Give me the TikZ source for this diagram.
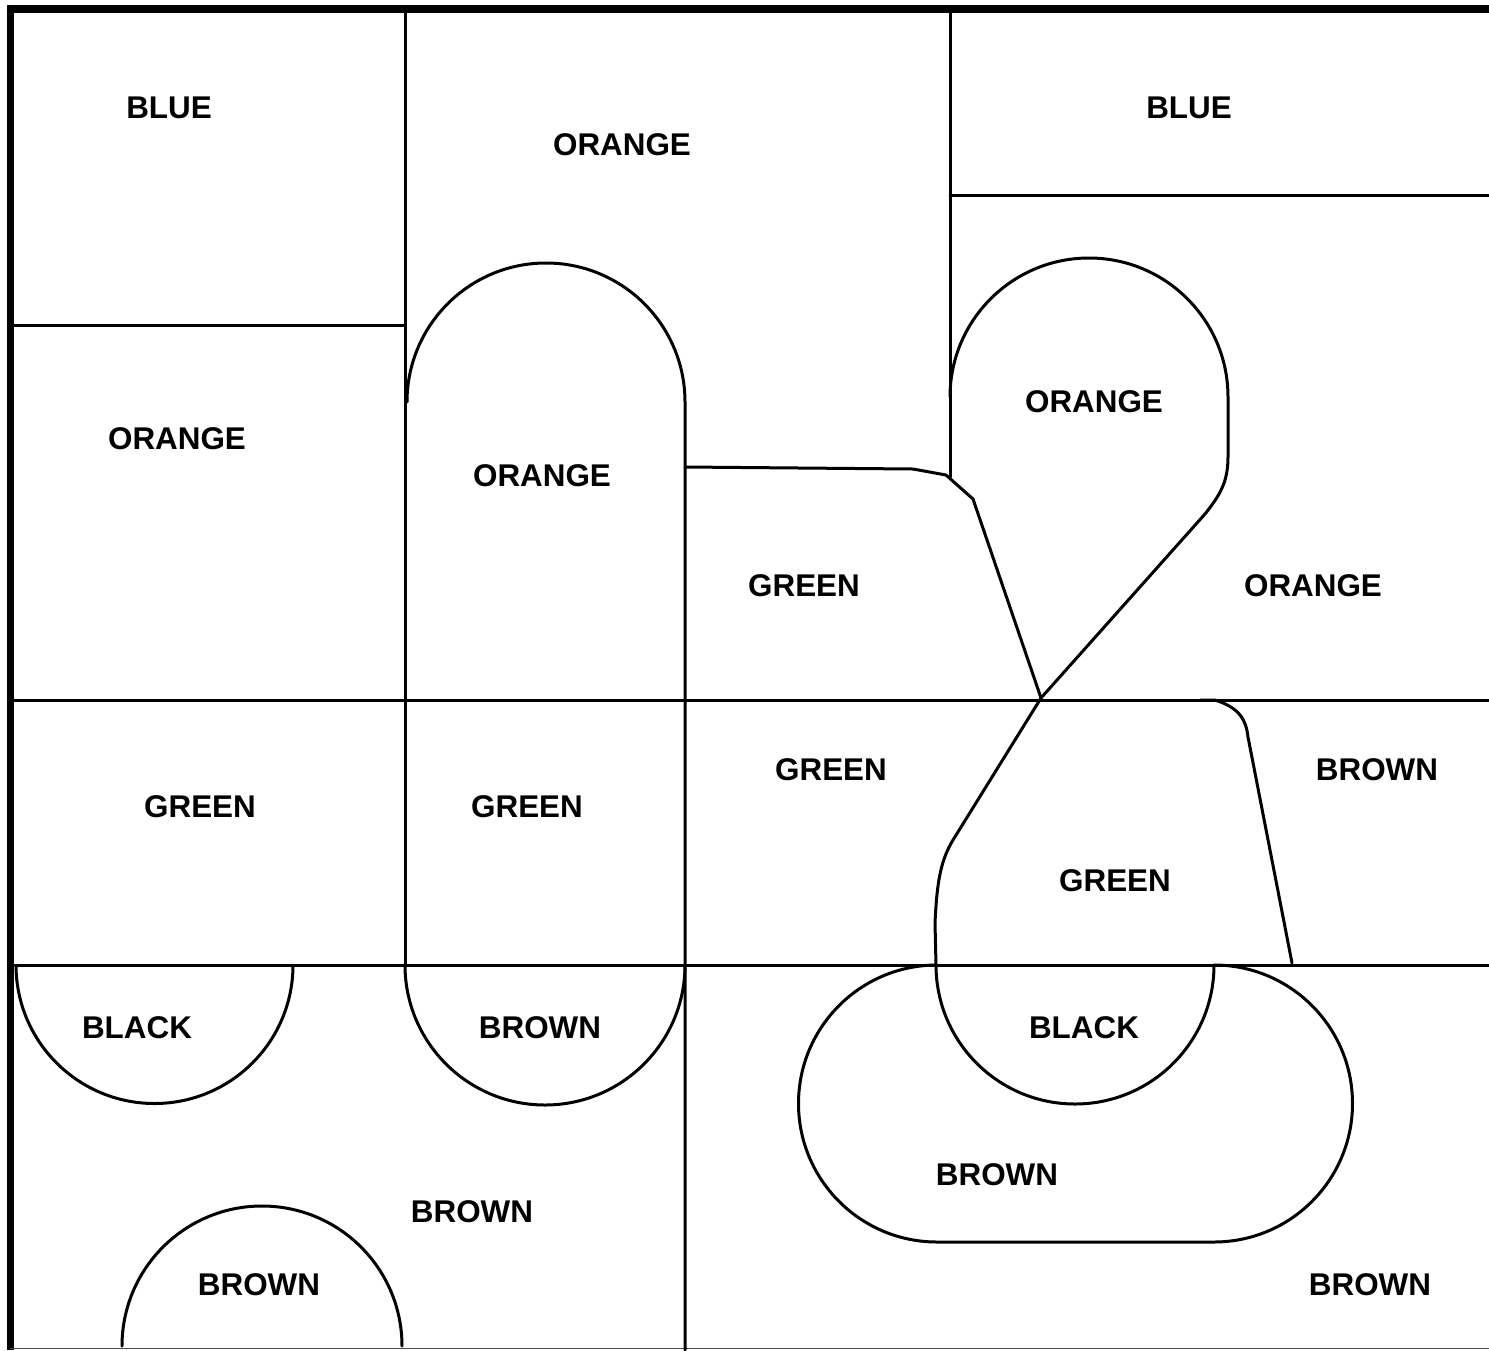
\documentclass[tikz,border=0pt]{standalone}
\usepackage{fontspec}
\setmainfont{Liberation Sans}
\begin{document}
\begin{tikzpicture}[x=1pt,y=-1pt,
  edge/.style={line width=3pt,line join=round,line cap=round},
  frame/.style={line width=7.5pt},
  lbl/.style={font=\fontsize{31.4}{36}\selectfont\bfseries,inner sep=0pt}]
\useasboundingbox (0,0) rectangle (1489,1350);
% thick frame
\draw[frame] (10.3,1350) -- (10.3,8.8) -- (1489,8.8);
\draw[line width=1.5pt,black!70] (10,1348.5) -- (1489,1348.5);
% straight lines
\draw[edge] (405,9) -- (405,965);
\draw[edge] (10,325) -- (405,325);
\draw[edge] (950,9) -- (950,477);
\draw[edge] (950,195) -- (1489,195);
\draw[edge] (10,700) -- (1489,700);
\draw[edge] (15,965) -- (1489,965);
% orange capsule (middle)
\draw[edge] (407,402) arc[start angle=180,end angle=360,radius=139] -- (685,1350);
% green/orange boundary
\draw[edge] (685,467) -- (913,469) -- (946,475) -- (973,499) -- (1041,698);
% orange teardrop and S curve
\draw[edge] (950,397) arc[start angle=180,end angle=360,radius=139]
  -- (1228,457) .. controls (1228,482) and (1220,495) .. (1205,514)
  -- (1090,643) -- (1041,698)
  -- (953,840) .. controls (941,860) and (937,880) .. (935,923) -- (936,965);
% green/brown boundary
\draw[edge] (1200,700) -- (1215,700) .. controls (1240,708) and (1246,720) .. (1248,737) -- (1292,963);
% semicircles below y=965
\draw[edge] (16,965) arc[start angle=180,end angle=0,radius=138.5];
\draw[edge] (405,965) arc[start angle=180,end angle=0,radius=140];
\draw[edge] (936,965) arc[start angle=180,end angle=0,radius=139];
% big brown capsule
\draw[edge] (937,965) arc[start angle=270,end angle=90,radius=138.5] -- (1214,1242)
  arc[start angle=90,end angle=-90,radius=138.5];
% bottom brown semicircle
\draw[edge] (122,1346) arc[start angle=180,end angle=360,radius=140];
% labels
\node[lbl] (l1) at (169,108) {BLUE};
\node[lbl] (l2) at (622,145) {ORANGE};
\node[lbl] (l3) at (1189,108) {BLUE};
\node[lbl] (l4) at (177,439) {ORANGE};
\node[lbl] (l5) at (542,476) {ORANGE};
\node[lbl] (l6) at (1094,402) {ORANGE};
\node[lbl] (l7) at (804,586) {GREEN};
\node[lbl] (l8) at (1313,586) {ORANGE};
\node[lbl] (l9) at (200,807) {GREEN};
\node[lbl] (l10) at (527,807) {GREEN};
\node[lbl] (l11) at (831,770) {GREEN};
\node[lbl] (l12) at (1377,770) {BROWN};
\node[lbl] (l13) at (1115,881) {GREEN};
\node[lbl] (l14) at (137,1028) {BLACK};
\node[lbl] (l15) at (540,1028) {BROWN};
\node[lbl] (l16) at (1084,1028) {BLACK};
\node[lbl] (l17) at (997,1175) {BROWN};
\node[lbl] (l18) at (472,1212) {BROWN};
\node[lbl] (l19) at (259,1285) {BROWN};
\node[lbl] (l20) at (1370,1285) {BROWN};
\end{tikzpicture}
\end{document}
